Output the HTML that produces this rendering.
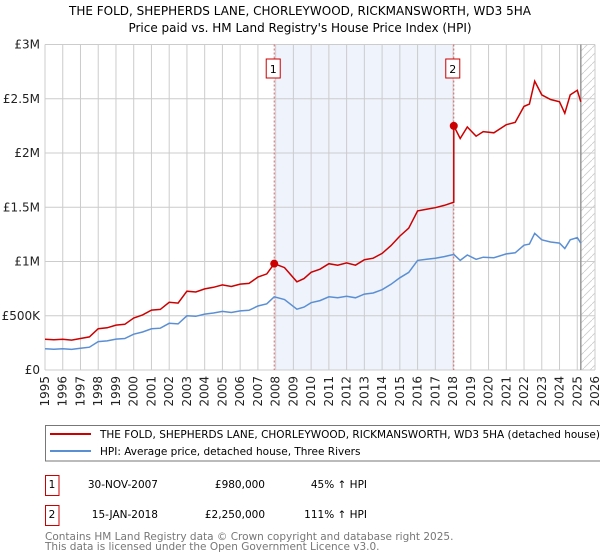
<!DOCTYPE html>
<html><head><meta charset="utf-8"><style>
body{margin:0;background:#fff;font-family:"DejaVu Sans","Liberation Sans",sans-serif;}
#wrap{position:relative;width:600px;height:560px;overflow:hidden;}
svg text{font-family:"DejaVu Sans","Liberation Sans",sans-serif;}
</style></head><body>
<div id="wrap">
<svg id="chart" width="600" height="560"></svg>
</div>
<script>
const hpiYears=[1995,1995.5,1996,1996.5,1997,1997.5,1998,1998.5,1999,1999.5,2000,2000.5,2001,2001.5,2002,2002.5,2003,2003.5,2004,2004.5,2005,2005.5,2006,2006.5,2007,2007.5,2007.92,2008.5,2009.2,2009.6,2010,2010.5,2011,2011.5,2012,2012.5,2013,2013.5,2014,2014.5,2015,2015.5,2016,2016.5,2017,2017.5,2018.04,2018.4,2018.8,2019.3,2019.7,2020.3,2021,2021.5,2022,2022.3,2022.6,2023,2023.5,2024,2024.3,2024.6,2025,2025.2];
const hpiValues=[195,192,195,190,200,210,262,268,285,290,330,350,380,385,430,425,500,495,515,525,540,530,545,550,590,610,675,650,560,580,620,640,675,665,680,665,700,710,740,790,850,900,1010,1020,1030,1045,1065,1010,1060,1020,1040,1035,1070,1080,1150,1160,1260,1200,1180,1170,1120,1200,1220,1170];
const saleYears=[2007.92,2018.04];
const salePrices=[980,2250];
const yTicks=[0,500,1000,1500,2000,2500,3000];
const yTickLabels=["£0","£500K","£1M","£1.5M","£2M","£2.5M","£3M"];
const xTicks=[1995,1996,1997,1998,1999,2000,2001,2002,2003,2004,2005,2006,2007,2008,2009,2010,2011,2012,2013,2014,2015,2016,2017,2018,2019,2020,2021,2022,2023,2024,2025,2026];

const NS="http://www.w3.org/2000/svg";
const svg=document.getElementById('chart');
const L=45,R=595,T=44.5,B=370;
const X=y=>L+(y-1995)/(2026-1995)*(R-L);
const Y=v=>B-v/3000*(B-T);
function mk(tag,attrs,parent){const e=document.createElementNS(NS,tag);for(const k in attrs)e.setAttribute(k,attrs[k]);(parent||svg).appendChild(e);return e;}
function txt(s,attrs){const e=mk('text',attrs);e.textContent=s;return e;}

let t=txt("THE FOLD, SHEPHERDS LANE, CHORLEYWOOD, RICKMANSWORTH, WD3 5HA",{x:300,y:15,'text-anchor':'middle','font-size':12});


t=txt("Price paid vs. HM Land Registry's House Price Index (HPI)",{x:300,y:32,'text-anchor':'middle','font-size':12});



let sh=mk('rect',{x:X(saleYears[0]),y:T,width:X(saleYears[1])-X(saleYears[0]),height:B-T,fill:'#eef3fc'});


const defs=mk('defs',{});
const pat=mk('pattern',{id:'hatch',patternUnits:'userSpaceOnUse',width:8,height:8},defs);
mk('path',{d:'M0,8 L8,0',stroke:'#ccc','stroke-width':0.8},pat);
const endX=X(hpiYears[hpiYears.length-1]);
let hr=mk('rect',{x:endX,y:T,width:R-endX,height:B-T,fill:'url(#hatch)'});



xTicks.forEach(yr=>{let g=mk('line',{x1:X(yr),x2:X(yr),y1:T,y2:B,stroke:'#cccccc','stroke-width':1});


let l=txt(String(yr),{transform:`translate(${X(yr)+4},${B+6}) rotate(-90)`,'text-anchor':'end','font-size':12,fill:'#222'});

});
yTicks.forEach((v,i)=>{let g=mk('line',{x1:L,x2:R,y1:Y(v),y2:Y(v),stroke:'#cccccc','stroke-width':1});


let l=txt(yTickLabels[i],{x:L-5,y:Y(v)+4,'text-anchor':'end','font-size':12,fill:'#222'});

});
let el=mk('line',{x1:endX,x2:endX,y1:T,y2:B,stroke:'#999','stroke-width':1.5});



saleYears.forEach((sy,i)=>{let v=mk('line',{x1:X(sy),x2:X(sy),y1:T,y2:B,stroke:'#e06060','stroke-width':1,'stroke-dasharray':'2,2'});


let bx=mk('rect',{x:X(sy)-8,y:59,width:14,height:19,fill:'#fff',stroke:'#cc0000','stroke-width':1});


txt(String(i+1),{x:X(sy)-1,y:73,'text-anchor':'middle','font-size':11});});

let d='';hpiYears.forEach((yr,i)=>{d+=(i?'L':'M')+X(yr).toFixed(1)+','+Y(hpiValues[i]).toFixed(1);});
let hp=mk('path',{d:d,fill:'none',stroke:'#5b8fd4','stroke-width':1.5});



function hpiAt(yr){for(let i=1;i<hpiYears.length;i++){if(yr<=hpiYears[i]){const f=(yr-hpiYears[i-1])/(hpiYears[i]-hpiYears[i-1]);return hpiValues[i-1]+f*(hpiValues[i]-hpiValues[i-1]);}}return hpiValues[hpiValues.length-1];}
const r1=salePrices[0]/hpiAt(saleYears[0]),r2=salePrices[1]/hpiAt(saleYears[1]);
let pd='';
hpiYears.forEach((yr,i)=>{const r=yr<saleYears[1]?r1:r2;
if(yr===saleYears[1]){pd+='L'+X(yr).toFixed(1)+','+Y(hpiValues[i]*r1).toFixed(1);}
pd+=(i?'L':'M')+X(yr).toFixed(1)+','+Y(hpiValues[i]*r).toFixed(1);});
let pp=mk('path',{d:pd,fill:'none',stroke:'#cc0000','stroke-width':1.5});


saleYears.forEach((sy,i)=>{let c=mk('circle',{cx:X(sy),cy:Y(salePrices[i]),r:4,fill:'#cc0000'});

});

let lg=mk('rect',{x:45.5,y:425.5,width:565,height:35.5,fill:'#fff',stroke:'#777','stroke-width':1});


mk('line',{x1:50,x2:91,y1:434,y2:434,stroke:'#cc0000','stroke-width':2});
let lt=txt("THE FOLD, SHEPHERDS LANE, CHORLEYWOOD, RICKMANSWORTH, WD3 5HA (detached house)",{x:100,y:438,'font-size':10.5});


mk('line',{x1:50,x2:91,y1:451,y2:451,stroke:'#5b8fd4','stroke-width':2});
lt=txt("HPI: Average price, detached house, Three Rivers",{x:100,y:455,'font-size':10.5});



const rows=[["1","30-NOV-2007","£980,000","45% ↑ HPI",475],["2","15-JAN-2018","£2,250,000","111% ↑ HPI",505]];
rows.forEach(r=>{let b=mk('rect',{x:45.5,y:r[4]+0.5,width:13.5,height:20,fill:'#fff',stroke:'#cc0000','stroke-width':1});


txt(r[0],{x:52,y:r[4]+13,'text-anchor':'middle','font-size':10.5});
txt(r[1],{x:158,y:r[4]+13,'text-anchor':'end','font-size':10.5});
txt(r[2],{x:265,y:r[4]+13,'text-anchor':'end','font-size':10.5});
txt(r[3],{x:367,y:r[4]+13,'text-anchor':'end','font-size':10.5});});
let f1=txt("Contains HM Land Registry data © Crown copyright and database right 2025.",{x:45,y:540,'font-size':10.5,fill:'#777'});


let f2=txt("This data is licensed under the Open Government Licence v3.0.",{x:45,y:550,'font-size':10.5,fill:'#777'});


</script>
</body></html>
